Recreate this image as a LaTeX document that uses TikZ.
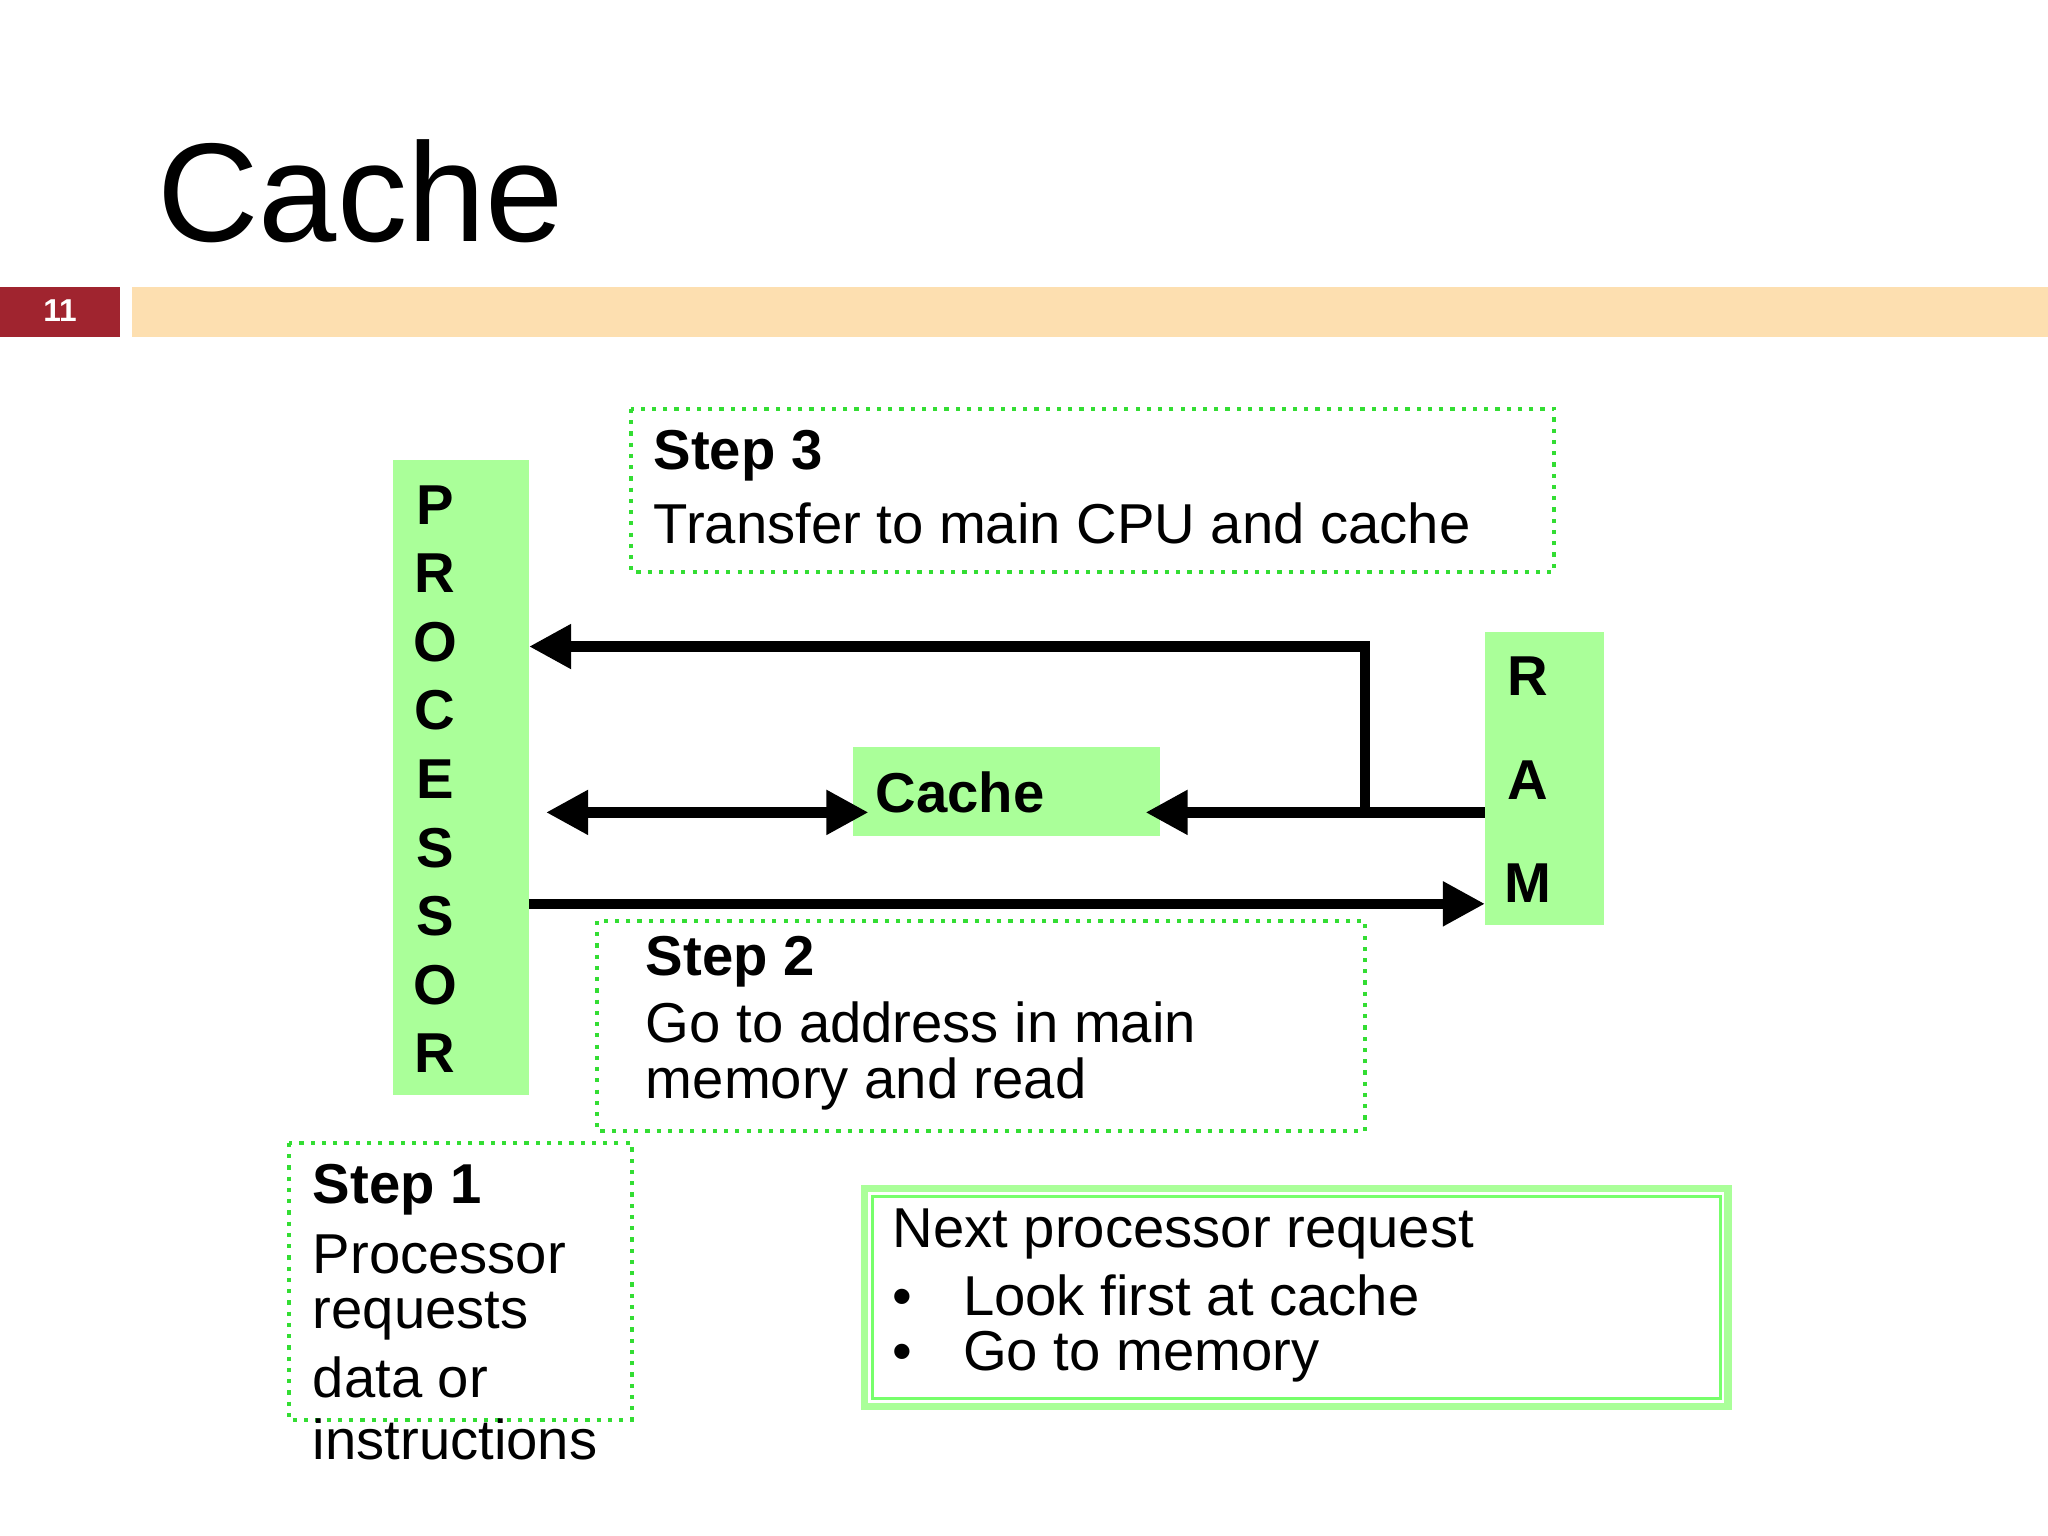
\documentclass[tikz,border=0pt]{standalone}
\usepackage{fontspec}
\setmainfont{Liberation Sans}
\usetikzlibrary{arrows.meta,positioning}
\definecolor{boxgreen}{HTML}{AAFF99}
\definecolor{dotgreen}{HTML}{33DD33}
\definecolor{barorange}{HTML}{FDDFB0}
\definecolor{barred}{HTML}{A0242F}
\tikzstyle{unit}=[fill=boxgreen,draw=none]
\tikzstyle{stepbox}=[draw=dotgreen,line width=1.2pt,dotted]
\tikzstyle{txt}=[anchor=west,inner sep=0pt,font=\fontsize{16}{18}\selectfont]
\tikzstyle{bigletter}=[inner sep=0pt,font=\fontsize{16}{18}\selectfont\bfseries]
\tikzstyle{flow}=[line width=3pt,-{Triangle[length=12pt,width=12pt]}]
\begin{document}
\begin{tikzpicture}[x=0.013061cm,y=-0.013061cm]
	\useasboundingbox (0,0) rectangle (1568,1176);
	% title and bar
	\node[anchor=base west,inner sep=0pt,font=\fontsize{40}{44}\selectfont] (title) at (120,185) {Cache};
	\fill[barred] (0,220) rectangle (92,258);
	\node[text=white,font=\bfseries\small] (page) at (46,238) {11};
	\fill[barorange] (101,220) rectangle (1568,258);
	% units
	\fill[unit] (301,352) rectangle (405,838);
	\foreach \l [count=\i] in {P,R,O,C,E,S,S,O,R}
		\node[bigletter] (p\i) at (333,334+52.5*\i) {\l};
	\fill[unit] (1137,484) rectangle (1228,708);
	\node[bigletter] (r1) at (1170,518) {R};
	\node[bigletter] (r2) at (1170,597) {A};
	\node[bigletter] (r3) at (1170,676) {M};
	\fill[unit] (653,572) rectangle (888,640);
	\node[bigletter,anchor=west] (cache) at (670,607) {Cache};
	% connectors
	\coordinate (procTop) at (405,495);
	\coordinate (procBot) at (405,692);
	\coordinate (ramMid) at (1137,622);
	\coordinate (ramBot) at (1137,692);
	\coordinate (split) at (1045,622);
	\coordinate (cacheL) at (665,622);
	\coordinate (cacheR) at (877,622);
	\coordinate (procMid) at (418,622);
	\draw[flow] (split) |- (procTop);
	\draw[flow] (ramMid) -- (cacheR);
	\draw[flow,{Triangle[length=12pt,width=12pt]}-{Triangle[length=12pt,width=12pt]}] (procMid) -- (cacheL);
	\draw[flow] (procBot) -- (ramBot);
	% steps
	\draw[stepbox] (483,313) rectangle (1190,438);
	\node[txt,font=\fontsize{16}{18}\selectfont\bfseries] (s3) at (500,349) {Step 3};
	\node[txt] (s3a) at (500,401) {Transfer to main CPU and cache};
	\draw[stepbox] (457,705) rectangle (1045,866);
	\node[txt,font=\fontsize{16}{18}\selectfont\bfseries] (s2) at (494,736) {Step 2};
	\node[txt] (s2a) at (494,783) {Go to address in main};
	\node[txt] (s2b) at (494,830) {memory and read};
	\draw[stepbox] (221,875) rectangle (484,1087);
	\node[txt,font=\fontsize{16}{18}\selectfont\bfseries] (s1) at (239,911) {Step 1};
	\foreach \t [count=\i] in {Processor,requests,data or,instructions}
		\node[txt] (s1\i) at (239,913+47.3*\i) {\t};
	% next request
	\draw[draw=boxgreen,line width=2pt] (662,910) rectangle (1323,1077);
	\draw[draw=boxgreen!70!green,line width=0.8pt] (668,916) rectangle (1317,1071);
	\node[txt] (n0) at (683,945) {Next processor request};
	\node[txt] (n1) at (683,992) {•\hspace{0.9em}Look first at cache};
	\node[txt] (n2) at (683,1039) {•\hspace{0.9em}Go to memory};
\end{tikzpicture}
\end{document}
